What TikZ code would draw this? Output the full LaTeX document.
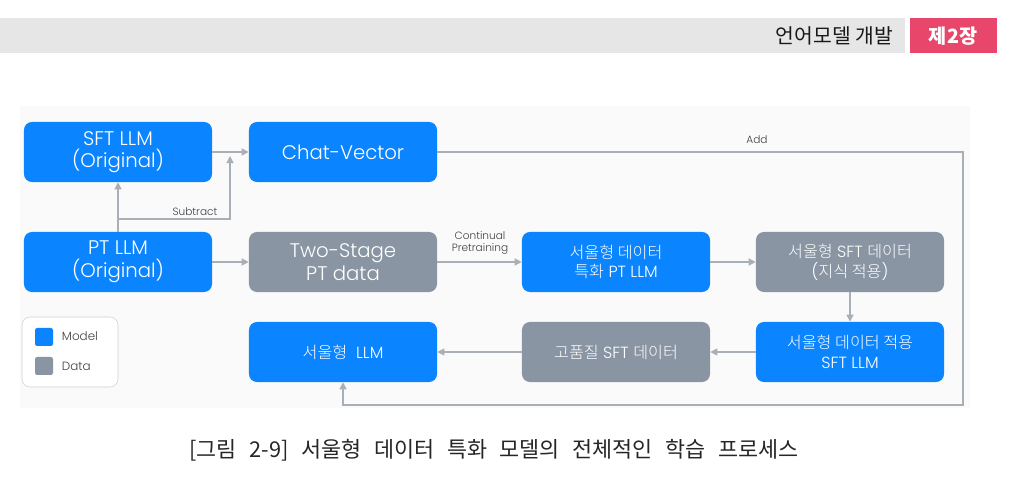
\documentclass[tikz,border=0pt]{standalone}
\usepackage{fontspec}
\setmainfont{Poppins}[UprightFont=* Light]
\newfontfamily\kr{Noto Sans CJK KR}
\newfontfamily\krlight{Noto Sans CJK KR}[UprightFont=* Light]
\usetikzlibrary{arrows.meta}
\definecolor{modelblue}{HTML}{0A84FF}
\definecolor{datagray}{HTML}{8995A3}
\definecolor{linegray}{HTML}{A8AFB6}
\definecolor{bandgray}{HTML}{E6E6E6}
\definecolor{chapterpink}{HTML}{E8466B}
\tikzset{
  model/.style={fill=modelblue, rounded corners=0.2cm, minimum width=4.7cm, minimum height=1.5cm,
    text=white, align=center, font=\fontsize{14}{16}\selectfont},
  data/.style={model, fill=datagray},
  small/.style={font=\fontsize{11.5}{14}\selectfont},
  flow/.style={draw=linegray, line width=0.9pt, -{Triangle[length=5pt,width=5pt]}},
  lbl/.style={font=\fontsize{7.5}{8.5}\selectfont, text=black!75, align=center},
}
\begin{document}
\begin{tikzpicture}[x=0.025cm, y=-0.025cm]
\useasboundingbox (0,0) rectangle (1010,477);
% header
\fill[bandgray] (0,18) rectangle (905,53);
\fill[chapterpink] (910,18) rectangle (997,53);
\node[anchor=east, font=\kr\fontsize{14.5}{16}\selectfont, text=black!90] (chaptitle) at (898,36) {언어모델 개발};
\node[font=\kr\bfseries\fontsize{14}{16}\selectfont, text=white] (chapno) at (953,36) {제2장};
% background
\fill[black!2] (20,106) rectangle (970,408);
% boxes
\node[model] (sft) at (118,152) {SFT LLM\\(Original)};
\node[model] (chat) at (343,152) {Chat-Vector};
\node[model] (pt) at (118,262) {PT LLM\\(Original)};
\node[data] (twostage) at (343,262) {Two-Stage\\PT data};
\node[model, small] (ptllm) at (616,262) {{\krlight 서울형 데이터}\\{\krlight 특화} PT LLM};
\node[data, small] (sftdata) at (850,262) {{\krlight 서울형} SFT {\krlight 데이터}\\({\krlight 지식 적용})};
\node[model, small] (sftllm) at (850,352) {{\krlight 서울형 데이터 적용}\\SFT LLM};
\node[data, small] (hqdata) at (616,352) {{\krlight 고품질} SFT {\krlight 데이터}};
\node[model, small] (seoulllm) at (343,352) {{\krlight 서울형}\ \ LLM};
% legend
\draw[black!18, fill=white, rounded corners=0.2cm] (22,317) rectangle (118,387);
\fill[modelblue, rounded corners=1.5pt] (35,328) rectangle (53,346);
\fill[datagray, rounded corners=1.5pt] (35,357) rectangle (53,375);
\node[anchor=west, font=\fontsize{8.5}{9}\selectfont, text=black!75] (modelkey) at (57,336) {Model};
\node[anchor=west, font=\fontsize{8.5}{9}\selectfont, text=black!75] (datakey) at (57,366) {Data};
% connectors
\coordinate (subfork) at (118,219);
\coordinate (subjoin) at (230,156);
\coordinate (addturn) at (963,405);
\draw[flow] (sft) -- (chat);
\draw[flow] (pt) -- (sft);
\draw[flow] (subfork) -| (subjoin);
\node[lbl] (subtract) at (195,212) {Subtract};
\draw[flow] (pt) -- (twostage);
\draw[flow] (twostage) -- (ptllm);
\node[lbl] (contpt) at (480,243) {Continual\\Pretraining};
\draw[flow] (ptllm) -- (sftdata);
\draw[flow] (sftdata) -- (sftllm);
\draw[flow] (sftllm) -- (hqdata);
\draw[flow] (hqdata) -- (seoulllm);
\draw[flow] (chat.east) -| (addturn) -| (seoulllm.south);
\node[lbl] (add) at (757,140) {Add};
% caption
\node[font=\kr\fontsize{15.5}{17}\selectfont, text=black!85] (caption) at (494,450) {\spaceskip=9pt [그림 2-9] 서울형 데이터 특화 모델의 전체적인 학습 프로세스};
\end{tikzpicture}
\end{document}
